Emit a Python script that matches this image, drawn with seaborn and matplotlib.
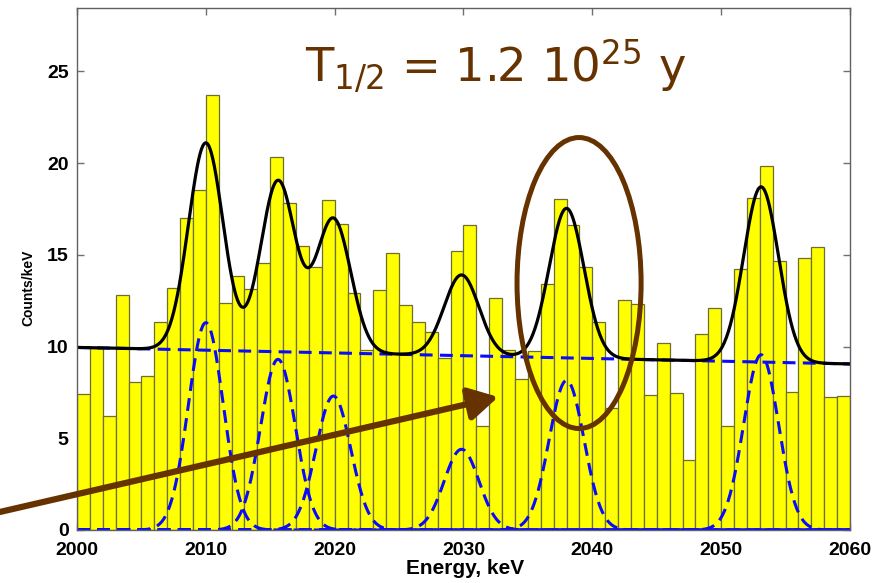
import numpy as np
import pandas as pd
import matplotlib
matplotlib.use("Agg")
import matplotlib.pyplot as plt
import seaborn as sns
from matplotlib.patches import Ellipse

# ---- data ----
bin_left = list(range(2000, 2060))
counts = [7.4, 9.9, 6.2, 12.8, 8.05, 8.4, 11.35, 13.2, 17.0, 18.55,
          23.7, 12.35, 13.85, 13.15, 14.55, 20.35, 17.8, 15.5, 14.35, 18.0,
          16.7, 12.9, 9.8, 13.1, 15.1, 12.25, 11.35, 10.8, 9.4, 15.2,
          16.65, 5.65, 12.65, 9.8, 8.25, 9.75, 13.4, 18.05, 16.6, 14.35,
          11.35, 6.65, 12.55, 12.3, 7.35, 10.2, 7.45, 3.8, 10.7, 12.1,
          5.65, 14.25, 18.1, 19.85, 14.65, 7.5, 14.85, 15.4, 7.25, 7.3]

# fit model: linear background + gaussian peaks
bg_start, bg_end = 9.95, 9.05          # background at 2000 and 2060 keV
peak_centers = [2010.0, 2015.6, 2019.9, 2029.85, 2038.0, 2053.1]
peak_heights = [11.3, 9.3, 7.3, 4.4, 8.15, 9.55]
peak_sigma = 1.35

xticks = [2000, 2010, 2020, 2030, 2040, 2050, 2060]
yticks = [0, 5, 10, 15, 20, 25]
xlabel = "Energy, keV"
ylabel = "Counts/keV"
halflife_text = r"T$_{1/2}$ = 1.2 10$^{25}$ y"

# ---- figure ----
sns.set_theme(style="white")
plt.rcParams["font.family"] = ["DejaVu Sans"]
plt.rcParams["mathtext.default"] = "regular"

fig = plt.figure(figsize=(8.86, 5.83), dpi=100)
ax = fig.add_axes([77 / 886, 53 / 583, 773 / 886, 522 / 583])

edges = bin_left + [bin_left[-1] + 1]
df = pd.DataFrame({"energy": np.array(bin_left) + 0.5, "counts": counts})
sns.histplot(data=df, x="energy", weights="counts", bins=edges,
             color="#ffff00", edgecolor="#6e6e2e", linewidth=0.9,
             alpha=1, ax=ax)

xs = np.linspace(2000, 2060, 1201)
bg = bg_start + (bg_end - bg_start) * (xs - 2000) / 60.0
total = bg.copy()
blue = "#0a0aff"
dash = (0, (4.2, 2.4))
for c, h in zip(peak_centers, peak_heights):
    g = h * np.exp(-(xs - c) ** 2 / (2 * peak_sigma ** 2))
    total = total + g
    sns.lineplot(x=xs, y=g, color=blue, linewidth=2.2, linestyle=dash,
                 ax=ax, estimator=None, sort=False)
sns.lineplot(x=xs, y=bg, color=blue, linewidth=2.2, linestyle=dash,
             ax=ax, estimator=None, sort=False)
sns.lineplot(x=xs, y=total, color="black", linewidth=2.3,
             ax=ax, estimator=None, sort=False)

brown = "#663300"
ell = Ellipse((2038.97, 13.46), width=9.63, height=15.86, fill=False,
              edgecolor=brown, linewidth=3.6, zorder=6)
ax.add_patch(ell)
ax.annotate("", xy=(2032.7, 7.25), xytext=(1994.0, 0.98),
            xycoords="data", textcoords="data", annotation_clip=False,
            arrowprops=dict(arrowstyle="-|>,head_length=0.8,head_width=0.45",
                            color=brown, lw=4.5, mutation_scale=22,
                            shrinkA=0, shrinkB=0), zorder=7)
ax.text(2017.7, 24.4, halflife_text, color=brown, fontsize=33.5,
        ha="left", va="baseline", zorder=8)

ax.set_xlim(2000, 2060)
ax.set_ylim(0, 28.45)
ax.set_xticks(xticks)
ax.set_yticks(yticks)
ax.set_xticklabels([str(t) for t in xticks], fontfamily="Liberation Sans",
                   fontweight="bold", fontsize=14, color="black")
ax.set_yticklabels([str(t) for t in yticks], fontfamily="Liberation Sans",
                   fontweight="bold", fontsize=14, color="black")
ax.tick_params(axis="x", direction="in", length=5, width=1, color="#707070",
               top=True, bottom=True, pad=8.5)
ax.tick_params(axis="y", direction="in", length=5, width=1, color="#707070",
               left=True, right=True, pad=6)
for s in ax.spines.values():
    s.set_color("#606060")
    s.set_linewidth(1.0)
ax.set_xlabel(xlabel, fontfamily="Liberation Sans", fontweight="bold",
              fontsize=15, color="black")
ax.xaxis.set_label_coords(0.502, -0.056)
ax.set_ylabel(ylabel, fontfamily="Liberation Sans", fontweight="bold",
              fontsize=10, color="black")
ax.yaxis.set_label_coords(-0.054, 0.4636)

fig.savefig("out.png", dpi=100)
